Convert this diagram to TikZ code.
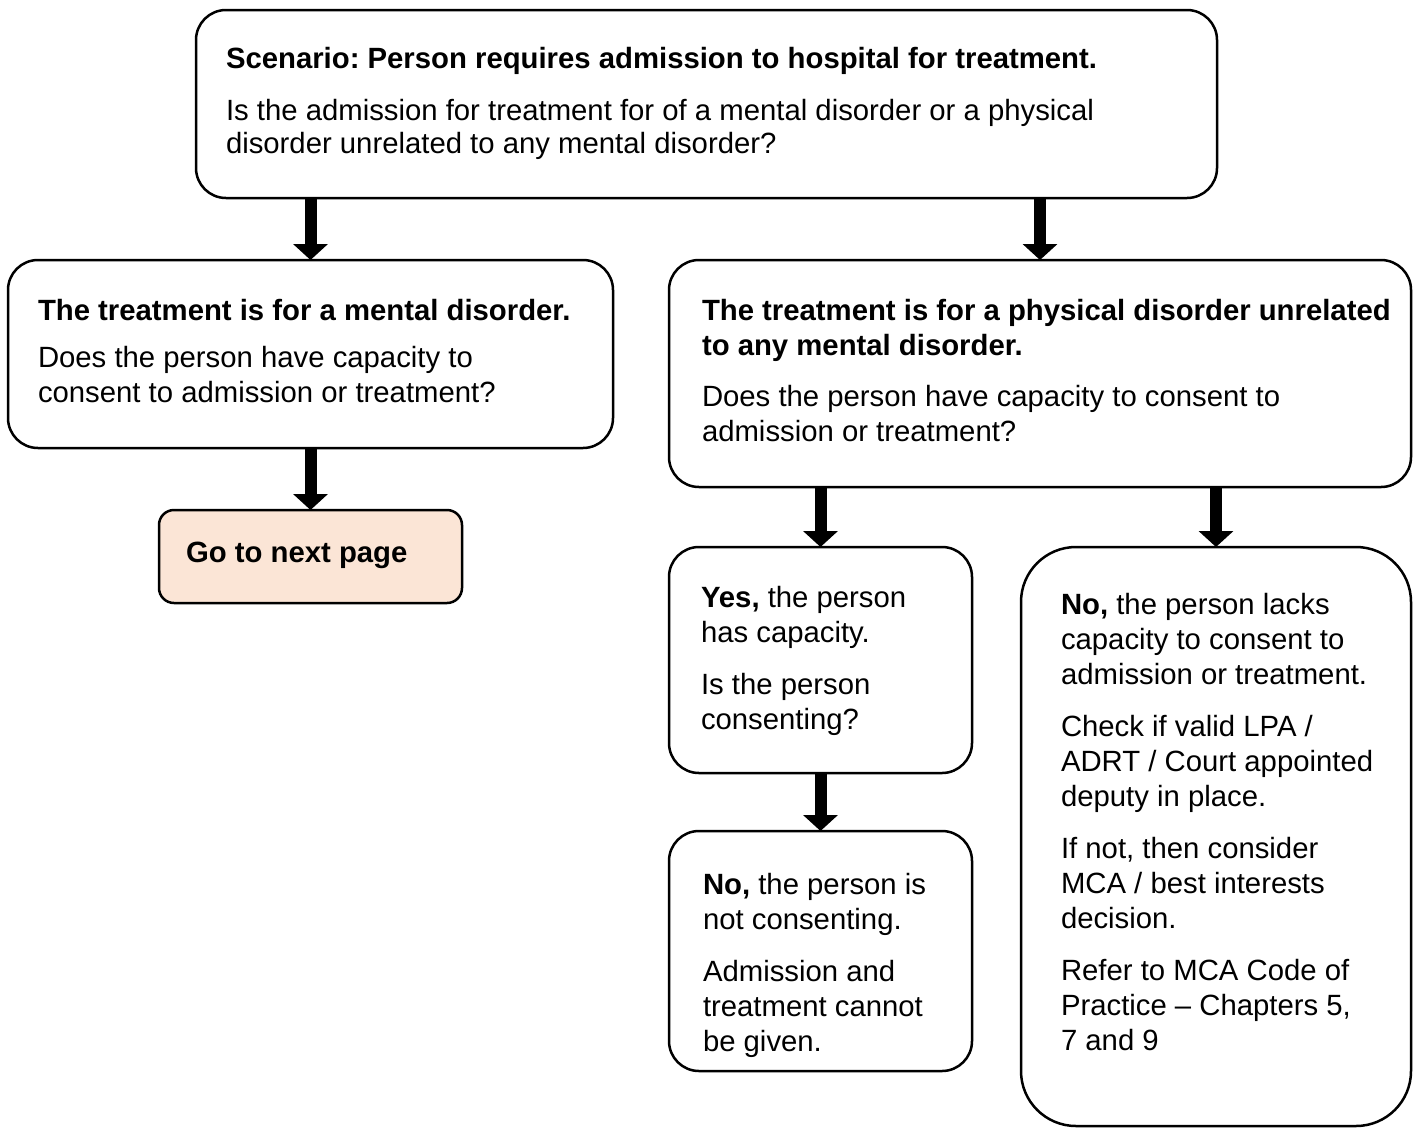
\documentclass[tikz,border=0pt]{standalone}
\usepackage{fontspec}
\setmainfont{Liberation Sans}
\usetikzlibrary{arrows.meta}
\definecolor{peach}{HTML}{FBE5D6}
\frenchspacing
\begin{document}
\begin{tikzpicture}[x=1pt,y=-1pt,
  box/.style={draw=black, line width=2.5pt, rounded corners=30pt, inner sep=0pt, outer sep=0pt},
  txt/.style={inner sep=0pt, outer sep=0pt, align=left, anchor=north west, font=\fontsize{29.3}{35}\selectfont},
  blockarrow/.style={line width=12pt, line cap=butt, -{Triangle[width=34pt,length=16pt]}}]
\useasboundingbox (0,0) rectangle (1416,1128);
% boxes
\node[box, minimum width=1021pt, minimum height=188pt] (top) at (706.5,104) {};
\node[box, minimum width=605pt, minimum height=188pt] (mental) at (310.5,354) {};
\node[box, minimum width=742pt, minimum height=227pt] (physical) at (1040,373.5) {};
\node[box, fill=peach, rounded corners=15pt, minimum width=303pt, minimum height=93pt] (go) at (310.5,556.5) {};
\node[box, minimum width=303pt, minimum height=226pt] (yes) at (820.5,660) {};
\node[box, minimum width=303pt, minimum height=240pt] (nocons) at (820.5,951) {};
\node[box, rounded corners=55pt, minimum width=390pt, minimum height=579pt] (nolacks) at (1216,836.5) {};
% texts
\node[txt, font=\fontsize{29.3}{33}\selectfont] (toptext) at (226,47.5)
  {\textbf{Scenario: Person requires admission to hospital for treatment.}\\[19pt]
   Is the admission for treatment for of a mental disorder or a physical\\
   disorder unrelated to any mental disorder?};
\node[txt] (mentaltext) at (38,299.5)
  {\textbf{The treatment is for a mental disorder.}\\[12pt]
   Does the person have capacity to\\
   consent to admission or treatment?};
\node[txt] (physicaltext) at (702,299.5)
  {\textbf{The treatment is for a physical disorder unrelated}\\
   \textbf{to any mental disorder.}\\[16pt]
   Does the person have capacity to consent to\\
   admission or treatment?};
\node[txt] (gotext) at (186,542.5) {\textbf{Go to next page}};
\node[txt] (yestext) at (701,586.5)
  {\textbf{Yes,} the person\\
   has capacity.\\[17pt]
   Is the person\\
   consenting?};
\node[txt] (noconstext) at (703,873.5)
  {\textbf{No,} the person is\\
   not consenting.\\[17pt]
   Admission and\\
   treatment cannot\\
   be given.};
\node[txt] (nolackstext) at (1061,593.5)
  {\textbf{No,} the person lacks\\
   capacity to consent to\\
   admission or treatment.\\[17pt]
   Check if valid LPA /\\
   ADRT / Court appointed\\
   deputy in place.\\[17pt]
   If not, then consider\\
   MCA / best interests\\
   decision.\\[17pt]
   Refer to MCA Code of\\
   Practice -- Chapters 5,\\
   7 and 9};
% arrows
\draw[blockarrow] (top.south -| mental.north) -- (mental.north);
\draw[blockarrow] (top.south -| physical.north) -- (physical.north);
\draw[blockarrow] (mental.south -| go.north) -- (go.north);
\draw[blockarrow] (physical.south -| yes.north) -- (yes.north);
\draw[blockarrow] (physical.south -| nolacks.north) -- (nolacks.north);
\draw[blockarrow] (yes.south) -- (nocons.north);
\end{tikzpicture}
\end{document}
